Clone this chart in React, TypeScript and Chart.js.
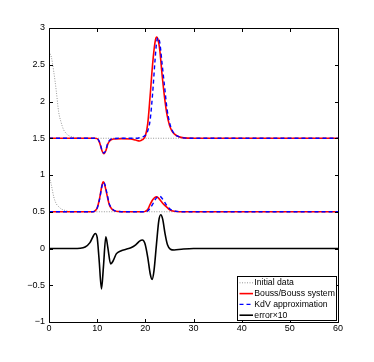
import React, { useEffect, useRef } from "react";
import { Chart, registerables } from "chart.js";

Chart.register(...registerables);

const xTicks = [0, 10, 20, 30, 40, 50, 60];
const yTicks = [-1, -0.5, 0, 0.5, 1, 1.5, 2, 2.5, 3];

const legendLabels = ["Initial data", "Bouss/Bouss system", "KdV approximation", "error\u00d710"];

const initialUpper: [number, number][] = [
  [0, 2.68], [0.5, 2.6], [1, 2.4], [1.5, 2.15], [2, 1.86], [2.5, 1.72], [3, 1.62],
  [3.5, 1.57], [4, 1.54], [5, 1.515], [6, 1.503], [7, 1.5], [60, 1.5],
];
const initialLower: [number, number][] = [
  [0, 1.0], [0.5, 0.86], [1, 0.7], [1.5, 0.61], [2, 0.57], [2.5, 0.54], [3, 0.525],
  [3.5, 0.515], [4, 0.507], [5, 0.5], [60, 0.5],
];
const boussUpper: [number, number][] = [
  [0, 1.5], [9.5, 1.5], [10, 1.495], [10.5, 1.44], [11, 1.33], [11.4, 1.29], [11.8, 1.33],
  [12.2, 1.42], [12.7, 1.47], [13.5, 1.49], [15, 1.495], [17, 1.49], [18, 1.475],
  [18.8, 1.463], [19.4, 1.48], [20, 1.53], [20.5, 1.7], [21, 2.08], [21.5, 2.5], [22, 2.8],
  [22.3, 2.876], [22.6, 2.85], [23, 2.7], [23.5, 2.35], [24, 2.05], [24.5, 1.82], [25, 1.68],
  [25.5, 1.6], [26, 1.56], [27, 1.52], [28, 1.505], [30, 1.5], [60, 1.5],
];
const boussLower: [number, number][] = [
  [0, 0.5], [9, 0.5], [9.5, 0.51], [10, 0.55], [10.5, 0.68], [11, 0.86], [11.25, 0.906],
  [11.5, 0.88], [12, 0.74], [12.5, 0.6], [13, 0.54], [13.5, 0.515], [14.5, 0.503], [16, 0.5],
  [19.5, 0.5], [20, 0.505], [20.5, 0.53], [21, 0.6], [21.5, 0.66], [22, 0.695], [22.3, 0.702],
  [22.7, 0.69], [23.2, 0.65], [23.7, 0.61], [24, 0.59], [24.5, 0.56], [25, 0.53], [25.5, 0.515],
  [26.5, 0.503], [28, 0.5], [60, 0.5],
];
const kdvUpper: [number, number][] = [
  [0, 1.5], [9.5, 1.5], [10, 1.495], [10.5, 1.45], [11, 1.34], [11.4, 1.3], [11.8, 1.34],
  [12.2, 1.43], [12.7, 1.48], [13.5, 1.495], [15, 1.5], [18, 1.5], [19, 1.51], [19.5, 1.52],
  [20, 1.54], [20.5, 1.6], [21, 1.75], [21.5, 2.1], [22, 2.55], [22.3, 2.78], [22.6, 2.87],
  [23, 2.8], [23.5, 2.5], [24, 2.2], [24.5, 1.9], [25, 1.72], [25.5, 1.62], [26, 1.56],
  [27, 1.52], [28, 1.505], [30, 1.5], [60, 1.5],
];
const kdvLower: [number, number][] = [
  [0, 0.5], [9, 0.5], [9.5, 0.51], [10, 0.55], [10.5, 0.67], [11, 0.85], [11.3, 0.9],
  [11.6, 0.87], [12, 0.76], [12.5, 0.61], [13, 0.55], [13.5, 0.52], [14.5, 0.503], [16, 0.5],
  [20, 0.5], [20.5, 0.51], [21, 0.55], [21.5, 0.6], [22, 0.66], [22.5, 0.7], [23, 0.71],
  [23.5, 0.68], [24, 0.63], [24.5, 0.58], [25, 0.545], [25.5, 0.52], [26.5, 0.505], [28, 0.5],
  [60, 0.5],
];
const errorX10: [number, number][] = [
  [0, 0], [5, 0], [6.5, 0.003], [7.5, 0.02], [8.5, 0.08], [9.2, 0.17], [9.6, 0.205],
  [10, 0.15], [10.4, -0.15], [10.9, -0.55], [11.3, -0.25], [11.8, 0.16], [12.2, 0.02],
  [12.8, -0.21], [13.3, -0.17], [14, -0.07], [15, -0.03], [16, -0.01], [17, 0.01],
  [18, 0.05], [18.8, 0.1], [19.4, 0.115], [19.9, 0.07], [20.5, -0.12], [21, -0.34],
  [21.4, -0.42], [21.8, -0.3], [22.3, 0.05], [22.8, 0.38], [23.2, 0.46], [23.6, 0.4],
  [24.1, 0.2], [24.6, 0.05], [25.2, -0.01], [26, -0.02], [27.5, -0.01], [30, 0], [60, 0],
];

const toPts = (a: [number, number][]) => a.map(([x, y]) => ({ x, y }));

const GRAY = "rgb(150,150,150)";
const RED = "rgb(255,0,0)";
const BLUE = "rgb(0,0,255)";
const BLACK = "rgb(0,0,0)";

const styles = [
  { color: GRAY, width: 1, dash: [1, 1.5] },
  { color: RED, width: 1.6, dash: [] as number[] },
  { color: BLUE, width: 1.4, dash: [4, 3] },
  { color: BLACK, width: 1.6, dash: [] as number[] },
];

const FONT = "'Liberation Sans', Arial, Helvetica, sans-serif";

const boxPlugin = {
  id: "matlabBox",
  afterDraw(chart: any) {
    const { ctx, chartArea: a, scales } = chart;
    const xs = scales.x;
    const ys = scales.y;
    ctx.save();
    ctx.strokeStyle = "#000";
    ctx.lineWidth = 1;
    ctx.setLineDash([]);
    ctx.beginPath();
    const L = Math.round(a.left) + 0.5;
    const R = Math.round(a.right) + 0.5;
    const T = Math.round(a.top) + 0.5;
    const B = Math.round(a.bottom) + 0.5;
    ctx.rect(L, T, R - L, B - T);
    const tl = 3.5;
    xTicks.forEach((v) => {
      const px = Math.round(xs.getPixelForValue(v)) + 0.5;
      ctx.moveTo(px, B);
      ctx.lineTo(px, B - tl);
      ctx.moveTo(px, T);
      ctx.lineTo(px, T + tl);
    });
    yTicks.forEach((v) => {
      const py = Math.round(ys.getPixelForValue(v)) + 0.5;
      ctx.moveTo(L, py);
      ctx.lineTo(L + tl, py);
      ctx.moveTo(R, py);
      ctx.lineTo(R - tl, py);
    });
    ctx.stroke();

    // legend
    const lw = 99;
    const lh = 44;
    const lx = R - 2 - lw;
    const ly = B - 2 - lh;
    ctx.fillStyle = "#fff";
    ctx.fillRect(lx, ly, lw, lh);
    ctx.strokeRect(lx, ly, lw, lh);
    ctx.font = `8.7px ${FONT}`;
    ctx.textBaseline = "middle";
    ctx.textAlign = "left";
    legendLabels.forEach((lab, i) => {
      const yy = ly + 6.3 + i * 10.8;
      const s = styles[i];
      ctx.beginPath();
      ctx.strokeStyle = s.color;
      ctx.lineWidth = s.width;
      ctx.setLineDash(s.dash);
      ctx.moveTo(lx + 2, yy);
      ctx.lineTo(lx + 15.5, yy);
      ctx.stroke();
      ctx.setLineDash([]);
      ctx.fillStyle = "#000";
      ctx.fillText(lab, lx + 16.8, yy);
    });
    ctx.restore();
  },
};

export default function App() {
  const ref = useRef<HTMLCanvasElement | null>(null);
  useEffect(() => {
    if (!ref.current) return;
    const mk = (data: [number, number][], si: number, order: number) => ({
      data: toPts(data),
      borderColor: styles[si].color,
      borderWidth: styles[si].width,
      borderDash: styles[si].dash,
      pointRadius: 0,
      fill: false,
      cubicInterpolationMode: "monotone" as const,
      order,
    });
    const chart = new Chart(ref.current, {
      type: "line",
      data: {
        datasets: [
          mk(initialUpper, 0, 4),
          mk(initialLower, 0, 4),
          mk(boussUpper, 1, 3),
          mk(boussLower, 1, 3),
          mk(kdvUpper, 2, 2),
          mk(kdvLower, 2, 2),
          mk(errorX10, 3, 1),
        ],
      },
      options: {
        animation: false,
        responsive: false,
        devicePixelRatio: 1,
        layout: { padding: { left: 0, top: 28, right: 36, bottom: 0 } },
        plugins: { legend: { display: false }, tooltip: { enabled: false } },
        scales: {
          x: {
            type: "linear",
            min: 0,
            max: 60,
            afterBuildTicks: (s: any) => {
              s.ticks = xTicks.map((v) => ({ value: v }));
            },
            afterFit: (s: any) => {
              s.height = 40;
            },
            grid: { display: false, drawTicks: false },
            border: { display: false },
            ticks: {
              padding: 1,
              color: "#000",
              font: { family: FONT, size: 9 },
              maxRotation: 0,
              callback: (v: any) => String(v),
            },
          },
          y: {
            type: "linear",
            min: -1,
            max: 3,
            afterBuildTicks: (s: any) => {
              s.ticks = yTicks.map((v) => ({ value: v }));
            },
            afterFit: (s: any) => {
              s.width = 49;
            },
            grid: { display: false, drawTicks: false },
            border: { display: false },
            ticks: {
              padding: 4,
              color: "#000",
              font: { family: FONT, size: 9 },
              callback: (v: any) => String(v).replace("-", "\u2212"),
            },
          },
        },
      },
      plugins: [boxPlugin],
    });
    return () => chart.destroy();
  }, []);
  return (
    <div style={{ position: "fixed", left: 0, top: 0, width: 374, height: 362, background: "#fff" }}>
      <canvas ref={ref} width={374} height={362} style={{ width: 374, height: 362, display: "block" }} />
    </div>
  );
}
